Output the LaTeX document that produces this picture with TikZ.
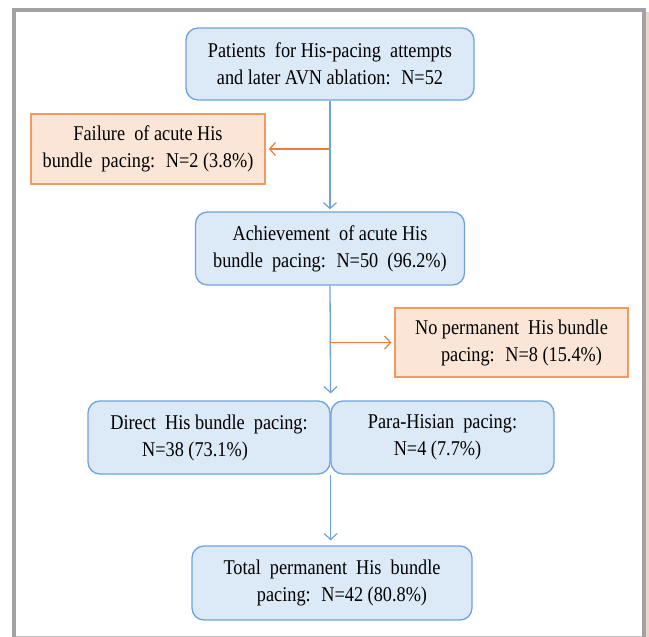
\documentclass[tikz,border=0pt]{standalone}
\usepackage{fontspec}
\setmainfont{Liberation Serif}[FakeStretch=0.87]
\usetikzlibrary{arrows.meta}
\definecolor{bluefill}{HTML}{DCE9F6}
\definecolor{blueline}{HTML}{6FA4DB}
\definecolor{orfill}{HTML}{FBE5D6}
\definecolor{orline}{HTML}{F39A62}
\definecolor{orarrow}{HTML}{EE7D3A}
\definecolor{framegrey}{HTML}{A2A2A4}
\tikzstyle{bluebox}=[draw=blueline,fill=bluefill,line width=1.3pt,rounded corners=12pt,align=center,text=black,font=\fontsize{21}{27}\selectfont,inner sep=0pt]
\tikzstyle{orbox}=[draw=orline,fill=orfill,line width=1.3pt,align=center,text=black,font=\fontsize{21}{27}\selectfont,inner sep=0pt]
\tikzstyle{flow}=[draw=blueline,line width=1.3pt,-{Straight Barb[length=6pt,width=13pt,line width=1.2pt]}]
\tikzstyle{branch}=[draw=orarrow,line width=1.3pt,-{Straight Barb[length=6pt,width=13pt,line width=1.2pt]}]

\begin{document}
\begin{tikzpicture}[x=1pt,y=-1pt]
\useasboundingbox (0,0) rectangle (649,637);

\fill[white] (14,10) rectangle (644,636);
\fill[black!20!brown!25] (646,12) rectangle (649,637);
\draw[framegrey,line width=4pt] (14,637) -- (14,10) -- (644,10) -- (644,637);
\draw[black!25,line width=1pt] (16,636) -- (642,636);

\node[bluebox,minimum width=288,minimum height=72] (pat) at (330,64)
  {Patients \ for His-pacing \ attempts\\and later AVN ablation: \ N=52};
\node[orbox,minimum width=234,minimum height=70] (fail) at (148,149)
  {Failure \ of acute His\\bundle \ pacing: \ N=2 (3.8\%)};
\node[bluebox,minimum width=269,minimum height=73] (ach) at (330,248.5)
  {Achievement \ of acute His\\bundle \ pacing: \ N=50 \ (96.2\%)};
\node[orbox,minimum width=233,minimum height=69] (nop) at (511.5,342.5)
  {No permanent \ His bundle\\\hspace*{20pt}pacing: \ N=8 (15.4\%)};
\node[bluebox,minimum width=242,minimum height=73] (dir) at (209,437.5)
  {Direct \ His bundle \ pacing:\\N=38 (73.1\%)\hspace*{28pt}};
\node[bluebox,minimum width=223,minimum height=73] (para) at (442.5,437.5)
  {Para-Hisian \ pacing:\\N=4 (7.7\%)\hspace*{10pt}};
\node[bluebox,minimum width=280,minimum height=74] (tot) at (332,583)
  {Total \ permanent \ His \ bundle\\\hspace*{20pt}pacing: \ N=42 (80.8\%)};

\draw[flow,shorten >=2pt] (pat.south -| ach.north) -- (ach.north);
\draw[branch,shorten >=3pt] (fail.east -| pat.south) -- (fail.east);
\draw[flow,shorten >=7pt] (ach.south) -- (dir.north east);
\draw[branch,shorten >=3pt] (nop.west -| ach.south) -- (nop.west);
\draw[flow,shorten >=5pt] (dir.south east) -- (dir.south east |- tot.north);
\end{tikzpicture}
\end{document}
